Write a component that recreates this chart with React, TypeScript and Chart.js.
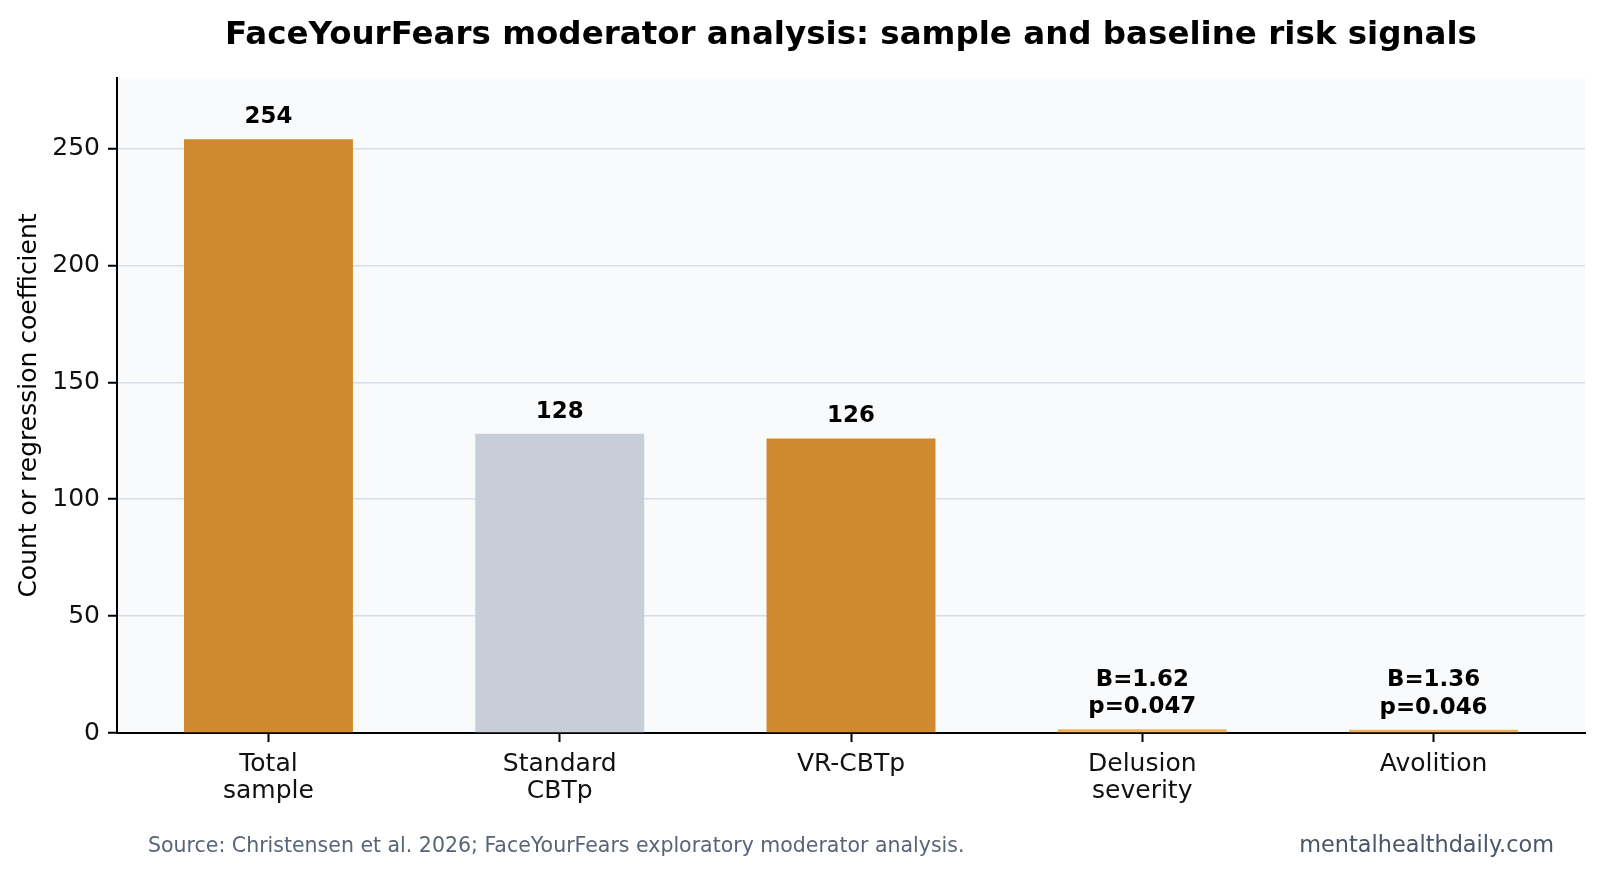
import React, { useEffect, useRef } from "react";
import { Chart, registerables } from "chart.js";

Chart.register(...registerables);

const TITLE = "FaceYourFears moderator analysis: sample and baseline risk signals";
const Y_LABEL = "Count or regression coefficient";
const SOURCE = "Source: Christensen et al. 2026; FaceYourFears exploratory moderator analysis.";
const WATERMARK = "mentalhealthdaily.com";

const categories: string[][] = [
  ["Total", "sample"],
  ["Standard", "CBTp"],
  ["VR-CBTp"],
  ["Delusion", "severity"],
  ["Avolition"],
];
const values: number[] = [254, 128, 126, 1.62, 1.36];
const pValues: (number | null)[] = [null, null, null, 0.047, 0.046];
const isCoefficient: boolean[] = [false, false, false, true, true];
const barColors: string[] = ["#d0892e", "#c8ced8", "#d0892e", "#f2b05a", "#f2b05a"];
const yTicks: number[] = [0, 50, 100, 150, 200, 250];
const Y_MAX = 280.2;

const FONT = "'DejaVu Sans', sans-serif";

function valueLabel(i: number): string[] {
  if (isCoefficient[i]) {
    return ["B=" + values[i].toFixed(2), "p=" + (pValues[i] as number).toFixed(3)];
  }
  return [String(values[i])];
}

const decorPlugin = {
  id: "decor",
  beforeDraw(chart: any) {
    const { ctx, chartArea } = chart;
    ctx.save();
    ctx.fillStyle = "#ffffff";
    ctx.fillRect(0, 0, chart.width, chart.height);
    ctx.fillStyle = "#f9fafc";
    ctx.fillRect(chartArea.left, chartArea.top, chartArea.right - chartArea.left, chartArea.bottom - chartArea.top);
    ctx.restore();
  },
  afterDatasetsDraw(chart: any) {
    const { ctx } = chart;
    const meta = chart.getDatasetMeta(0);
    ctx.save();
    ctx.font = "bold 22.9px " + FONT;
    ctx.fillStyle = "#000000";
    ctx.textAlign = "center";
    ctx.textBaseline = "alphabetic";
    meta.data.forEach((bar: any, i: number) => {
      const lines = valueLabel(i);
      const base = bar.y - 16;
      lines.forEach((line, j) => {
        const y = base - (lines.length - 1 - j) * 27.5;
        ctx.fillText(line, bar.x, y);
      });
    });
    ctx.restore();
  },
  afterDraw(chart: any) {
    const { ctx, chartArea } = chart;
    ctx.save();
    // title
    ctx.font = "bold 32.5px " + FONT;
    ctx.fillStyle = "#000000";
    ctx.textAlign = "center";
    ctx.textBaseline = "alphabetic";
    ctx.fillText(TITLE, (chartArea.left + chartArea.right) / 2, 44);
    // y label
    ctx.save();
    ctx.translate(29, (chartArea.top + chartArea.bottom) / 2);
    ctx.rotate(-Math.PI / 2);
    ctx.font = "25px " + FONT;
    ctx.textBaseline = "middle";
    ctx.textAlign = "center";
    ctx.fillText(Y_LABEL, 0, 0);
    ctx.restore();
    // source
    ctx.font = "20.5px " + FONT;
    ctx.fillStyle = "#5a6478";
    ctx.textAlign = "left";
    ctx.textBaseline = "middle";
    ctx.fillText(SOURCE, 148, 847);
    // watermark
    ctx.font = "22.4px " + FONT;
    ctx.fillStyle = "#4a5568";
    ctx.textAlign = "right";
    ctx.fillText(WATERMARK, 1554, 846);
    ctx.restore();
  },
};

export default function App() {
  const canvasRef = useRef<HTMLCanvasElement | null>(null);

  useEffect(() => {
    if (!canvasRef.current) return;
    Chart.defaults.font.family = FONT;
    const chart = new Chart(canvasRef.current, {
      type: "bar",
      data: {
        datasets: [
          {
            data: values.map((v, i) => ({ x: i, y: v })),
            backgroundColor: barColors,
            borderWidth: 0,
            barPercentage: 0.58,
            categoryPercentage: 1,
          },
        ],
      },
      options: {
        animation: false,
        responsive: false,
        devicePixelRatio: 1,
        layout: { padding: { top: 78, right: 16, bottom: 0, left: 0 } },
        plugins: {
          legend: { display: false },
          tooltip: { enabled: false },
          title: { display: false },
        },
        scales: {
          x: {
            type: "linear",
            min: -0.52,
            max: categories.length - 1 + 0.52,
            offset: false,
            z: 1,
            afterBuildTicks: (scale: any) => {
              scale.ticks = categories.map((_, i) => ({ value: i }));
            },
            afterFit: (scale: any) => {
              scale.height = 142;
            },
            ticks: {
              autoSkip: false,
              maxRotation: 0,
              minRotation: 0,
              padding: 9,
              color: "#111111",
              font: { size: 25, family: FONT, lineHeight: 1.07 },
              callback: (value: any) => categories[Math.round(Number(value))] ?? "",
            },
            grid: {
              display: true,
              offset: false,
              drawOnChartArea: false,
              drawTicks: true,
              tickLength: 9,
              tickWidth: 2,
              tickColor: "#000000",
            },
            border: { display: true, color: "#000000", width: 2 },
          },
          y: {
            type: "linear",
            min: 0,
            max: Y_MAX,
            z: 1,
            afterBuildTicks: (scale: any) => {
              scale.ticks = yTicks.map((v) => ({ value: v }));
            },
            afterFit: (scale: any) => {
              scale.width = 117;
            },
            ticks: {
              padding: 8,
              color: "#111111",
              font: { size: 25, family: FONT },
            },
            grid: {
              display: true,
              drawOnChartArea: true,
              color: "#d8dde5",
              lineWidth: 1.5,
              drawTicks: true,
              tickLength: 9,
              tickWidth: 2,
              tickColor: "#000000",
            },
            border: { display: true, color: "#000000", width: 2 },
          },
        },
      },
      plugins: [decorPlugin],
    } as any);
    return () => chart.destroy();
  }, []);

  return (
    <div style={{ position: "absolute", left: 0, top: 0, width: 1601, height: 875 }}>
      <canvas ref={canvasRef} width={1601} height={875} style={{ width: 1601, height: 875, display: "block" }} />
    </div>
  );
}
